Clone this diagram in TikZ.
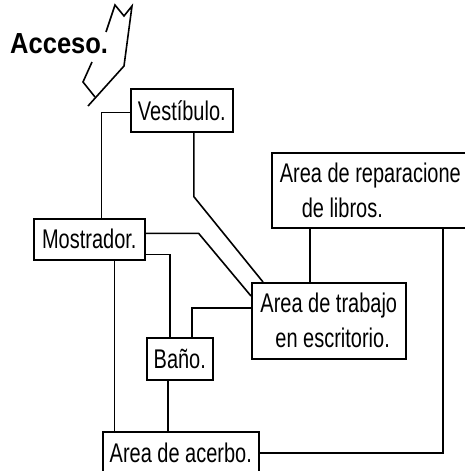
\documentclass[tikz,border=0pt]{standalone}
\usepackage{fontspec}
\newfontfamily\plano[FakeStretch=0.74]{Liberation Sans}
\newfontfamily\planoacc[FakeStretch=0.88]{Liberation Sans}
\tikzset{
  sala/.style={draw, line width=1.6pt, inner sep=0pt, anchor=north west,
    font=\plano\fontsize{27}{35}\selectfont},
  liga/.style={line width=1.6pt},
}

\begin{document}
\begin{tikzpicture}[x=1pt, y=-1pt]
  \useasboundingbox (0,0) rectangle (464,471);
  \node[anchor=base west, inner sep=0pt, font=\planoacc\bfseries\fontsize{29}{35}\selectfont] (acceso) at (10,53) {Acceso.};
  % puerta
  \draw[liga] (106,32) -- (115,5) -- (124,16) -- (132,6) -- (124,66) -- (88,106);
  \draw[liga] (92,62) -- (83,82) -- (95,97);

  \node[sala, minimum width=102pt, minimum height=43pt] (vest) at (130,88) {Vestíbulo.};
  \node[sala, minimum width=111pt, minimum height=41pt] (mostr) at (33,218) {Mostrador.};
  \node[sala, minimum width=66pt, minimum height=42pt] (bano) at (146,337) {Baño.};
  \node[sala, minimum width=156pt, minimum height=42pt] (acer) at (102,431) {Area de acerbo.};
  \node[sala, minimum width=154pt, minimum height=76pt, align=left] (trab) at (251,282)
    {Area de trabajo\\\hspace*{15pt}en escritorio.};
  \node[sala, inner xsep=8pt, minimum height=75pt, align=left] (repar) at (271,152)
    {Area de reparacione\\\hspace*{22pt}de libros.};

  \draw[liga] ([yshift=-2pt]vest.west) -| ([xshift=12pt]mostr.north);
  \draw[liga] ([xshift=12pt]vest.south) -- ++(0,64) -- ([xshift=12pt]trab.north west);
  \draw[liga] ([yshift=6pt]mostr.east) -- ++(53,0) -- ([yshift=-14pt]trab.north west);
  \draw[liga] ([yshift=-15pt]mostr.east) -| ([xshift=-10pt]bano.north);
  \draw[liga] ([xshift=12pt]bano.north) |- ([yshift=13pt]trab.west);
  \draw[liga] ([xshift=25pt]mostr.south) -- ([xshift=25pt]mostr.south |- acer.north);
  \draw[liga] ([xshift=-12pt]bano.south) -- ([xshift=-12pt]bano.south |- acer.north);
  \draw[liga] ([xshift=-19pt]trab.north) -- ([xshift=-19pt]trab.north |- repar.south);
  \draw[liga] (acer.east) -| ([xshift=172pt]repar.south west);
\end{tikzpicture}
\end{document}
